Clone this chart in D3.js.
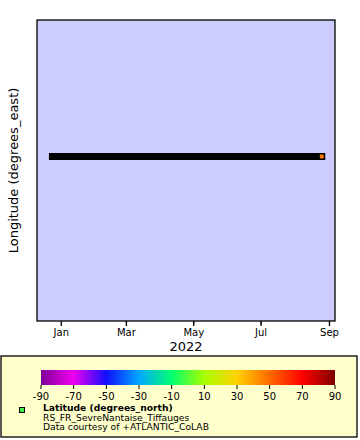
<!DOCTYPE html>
<html><head><meta charset="utf-8">
<script src="https://cdn.jsdelivr.net/npm/d3@7"></script>
<style>body{margin:0;background:#fff}svg{display:block;font-family:"DejaVu Sans",sans-serif}</style>
</head><body>
<script>
// ---- data ----
const obsTime = ["2021-12-24","2022-01-10","2022-02-01","2022-02-20","2022-03-15","2022-04-05","2022-04-25","2022-05-15","2022-06-05","2022-06-25","2022-07-15","2022-08-05","2022-08-25"];
const obsLon = [-1.10,-1.10,-1.10,-1.10,-1.10,-1.10,-1.10,-1.10,-1.10,-1.10,-1.10,-1.10,-1.10];
const obsLat = [47.0,47.0,47.0,47.0,47.0,47.0,47.0,47.0,47.0,47.0,47.0,47.0,47.0];
const xTickLabels = ["Jan","Mar","May","Jul","Sep"];
const colorTicks = [-90,-70,-50,-30,-10,10,30,50,70,90];
const colorStops = [-90,-70,-50,-30,-10,10,30,50,70,90];
const colorStopColors = ["#80009a","#f000f0","#1010ff","#00a8ff","#00ff70","#a8ff00","#ffd000","#ff6a00","#ff0000","#800000"];
const yLabel = "Longitude (degrees_east)";
const xLabel = "2022";
const legendTitle = "Latitude (degrees_north)";
const legendLines = ["RS_FR_SevreNantaise_Tiffauges","Data courtesy of +ATLANTIC_CoLAB"];

const W=360,H=440;
const svg=d3.select("body").append("svg").attr("width",W).attr("height",H);
const pl=37,pr=335,pt=20,pb=321;
const parse=d3.utcParse("%Y-%m-%d");
const x=d3.scaleUtc().domain([parse("2021-12-10"),parse("2022-09-06")]).range([pl,pr]);
const y=d3.scaleLinear().domain([-1.6465,-0.6465]).range([pb,pt]);
const color=d3.scaleLinear().domain(colorStops).range(colorStopColors);

svg.append("rect").attr("x",pl).attr("y",pt).attr("width",pr-pl).attr("height",pb-pt).attr("fill","#ccccff");

const pts=obsTime.map((t,i)=>({t:parse(t),lon:obsLon[i],lat:obsLat[i]}));
// dense record: overlapping black-edged markers merge into a solid strip; only the latest marker's fill shows
svg.append("path").datum(pts).attr("fill","none").attr("stroke","#000").attr("stroke-width",7)
  .attr("stroke-linecap","square")
  .attr("d",d3.line().x(d=>x(d.t)).y(d=>y(d.lon)));
svg.selectAll("rect.m").data(pts.slice(-1)).join("rect").attr("class","m")
  .attr("x",d=>x(d.t)-2.5).attr("y",d=>y(d.lon)-2.5).attr("width",5).attr("height",5)
  .attr("fill",d=>color(d.lat)).attr("stroke","#000").attr("stroke-width",1);

svg.append("rect").attr("x",pl).attr("y",pt).attr("width",pr-pl).attr("height",pb-pt).attr("fill","none").attr("stroke","#000").attr("stroke-width",1.3);

// x axis
const major=d3.utcMonth.every(2).range(parse("2022-01-01"),parse("2022-09-02"));
const minor=d3.utcMonth.every(2).range(parse("2022-02-01"),parse("2022-09-01"));
const ax=svg.append("g");
ax.selectAll("line.M").data(major).join("line").attr("x1",d=>x(d)).attr("x2",d=>x(d)).attr("y1",pb).attr("y2",pb+5).attr("stroke","#000").attr("stroke-width",1.3);
ax.selectAll("line.m").data(minor).join("line").attr("x1",d=>x(d)).attr("x2",d=>x(d)).attr("y1",pb).attr("y2",pb+3).attr("stroke","#000");
ax.selectAll("text").data(major).join("text").attr("x",d=>x(d)).attr("y",336).attr("text-anchor","middle").attr("font-size",10).text((d,i)=>xTickLabels[i]);
svg.append("text").attr("x",(pl+pr)/2).attr("y",350.5).attr("text-anchor","middle").attr("font-size",13).text(xLabel);
svg.append("text").attr("transform",`translate(18,${(pt+pb)/2}) rotate(-90)`).attr("text-anchor","middle").attr("font-size",13).text(yLabel);

// legend
svg.append("rect").attr("x",1).attr("y",356).attr("width",356).attr("height",81).attr("fill","#ffffcc").attr("stroke","#000").attr("stroke-width",1.3);
const cx=d3.scaleLinear().domain([-90,90]).range([41,335]);
const defs=svg.append("defs");
const grad=defs.append("linearGradient").attr("id","cb");
colorStops.forEach((v,i)=>grad.append("stop").attr("offset",(v+90)/180).attr("stop-color",colorStopColors[i]));
svg.append("rect").attr("x",41).attr("y",370).attr("width",294).attr("height",15).attr("fill","url(#cb)");
svg.selectAll("line.ct").data(colorTicks).join("line").attr("class","ct").attr("x1",d=>cx(d)).attr("x2",d=>cx(d)).attr("y1",385).attr("y2",389).attr("stroke","#000");
svg.selectAll("text.ct").data(colorTicks).join("text").attr("class","ct").attr("x",d=>cx(d)).attr("y",399.5).attr("text-anchor","middle").attr("font-size",10).text(d=>d);
svg.append("rect").attr("x",19.5).attr("y",407.5).attr("width",5).attr("height",5).attr("fill","#44ee44").attr("stroke","#000");
svg.append("text").attr("x",43).attr("y",411).attr("font-size",9.2).attr("font-weight","bold").text(legendTitle);
legendLines.forEach((s,i)=>svg.append("text").attr("x",43).attr("y",420.5+i*9.5).attr("font-size",9.2).text(s));
</script>
</body></html>
